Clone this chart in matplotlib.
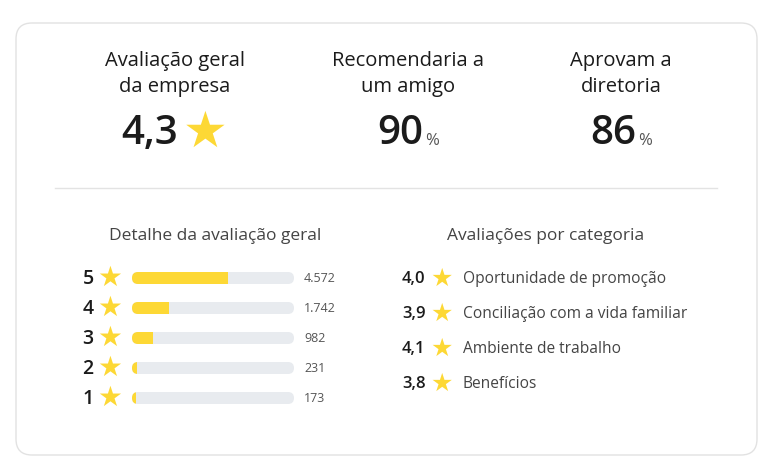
import matplotlib
matplotlib.use("Agg")
import matplotlib.pyplot as plt
from matplotlib.patches import FancyBboxPatch, Rectangle

headline_titles = ["Avaliação geral\nda empresa", "Recomendaria a\num amigo", "Aprovam a\ndiretoria"]
headline_values = ["4,3", "90", "86"]
headline_suffix = ["★", "%", "%"]
star_levels = ["5", "4", "3", "2", "1"]
star_counts = [4572, 1742, 982, 231, 173]
count_labels = ["4.572", "1.742", "982", "231", "173"]
cat_scores = ["4,0", "3,9", "4,1", "3,8"]
cat_names = ["Oportunidade de promoção", "Conciliação com a vida familiar", "Ambiente de trabalho", "Benefícios"]

YEL = "#FDD835"
GRAY = "#E8EBEF"
DARK = "#1b1b1b"
MID = "#555555"
FONT = ["Open Sans", "DejaVu Sans"]
plt.rcParams['font.family'] = FONT

W, H = 775, 473
fig = plt.figure(figsize=(W/100, H/100), dpi=100)
ax = fig.add_axes([0, 0, 1, 1])
ax.set_xlim(0, W); ax.set_ylim(H, 0); ax.axis("off")

ax.add_patch(FancyBboxPatch((16, 23), 741, 432, boxstyle="round,pad=0,rounding_size=16",
                            fc="white", ec="#E2E2E2", lw=1))
ax.plot([55, 717], [188, 188], color="#E3E3E3", lw=1)

cx = [175, 408, 621]
for i in range(3):
    ax.text(cx[i], 74, headline_titles[i], ha="center", va="center", fontsize=14.5, color=DARK, linespacing=1.35)
    if i == 0:
        ax.text(150, 134, headline_values[i], ha="center", va="center", fontsize=29, color=DARK, fontweight="semibold")
        ax.text(205, 133, headline_suffix[i], ha="center", va="center", fontsize=36, color=YEL,
                family="DejaVu Sans")
    else:
        ax.text(cx[i] - 8, 134, headline_values[i], ha="center", va="center", fontsize=29, color=DARK, fontweight="semibold")
        ax.text(cx[i] + 24, 141, headline_suffix[i], ha="center", va="center", fontsize=12, color=MID)

ax.text(215, 236, "Detalhe da avaliação geral", ha="center", va="center", fontsize=12.5, color="#444")
ax.text(546, 236, "Avaliações por categoria", ha="center", va="center", fontsize=12.5, color="#444")

total = sum(star_counts)
BW = 162
bax = fig.add_axes([132/W, 1 - 413/H, BW/W, 150/H])
bax.axis("off")
bax.set_xlim(0, BW); bax.set_ylim(150, 0)
for k, (lvl, c, lab) in enumerate(zip(star_levels, star_counts, count_labels)):
    y = 278 + 30 * k
    ax.text(88, y + 1, lvl, ha="center", va="center", fontsize=14, color=DARK, fontweight="semibold")
    ax.text(110, y, "★", ha="center", va="center", fontsize=20, color=YEL, family="DejaVu Sans")
    by = 15 + 30 * k
    bg = FancyBboxPatch((0, by - 6), BW, 12, boxstyle="round,pad=0,rounding_size=6",
                        fc=GRAY, ec="none")
    bax.add_patch(bg)
    fill = Rectangle((0, by - 6), BW * c / total, 12, fc=YEL, ec="none")
    bax.add_patch(fill)
    fill.set_clip_path(bg)
    ax.text(304, y, lab, ha="left", va="center", fontsize=9, color=MID)

for k, (s, n) in enumerate(zip(cat_scores, cat_names)):
    y = 279 + 35 * k
    ax.text(402, y, s, ha="left", va="center", fontsize=12, color=DARK, fontweight="semibold")
    ax.text(442, y, "★", ha="center", va="center", fontsize=18, color=YEL, family="DejaVu Sans")
    ax.text(463, y, n, ha="left", va="center", fontsize=11.2, color="#444")

fig.savefig("out.png", dpi=100)
